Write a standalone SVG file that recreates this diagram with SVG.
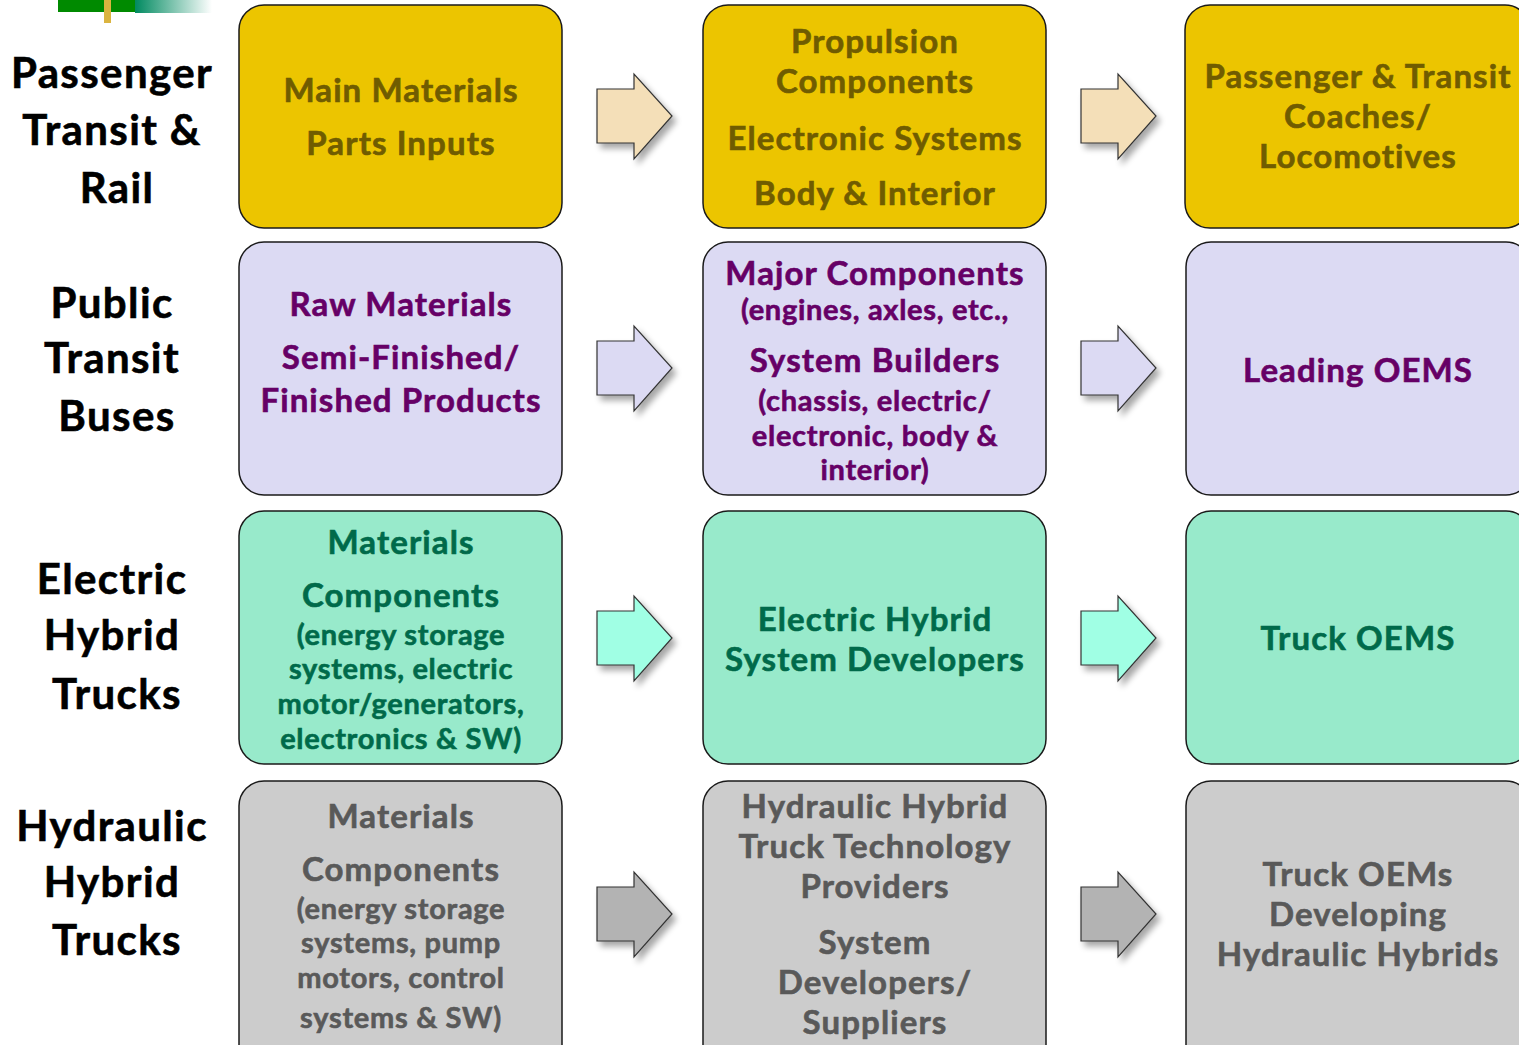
<svg xmlns="http://www.w3.org/2000/svg" width="1519" height="1045" viewBox="0 0 1519 1045">
<defs>
<linearGradient id="lg" x1="0" y1="0" x2="1" y2="0">
<stop offset="0" stop-color="#008a60"/>
<stop offset="1" stop-color="#ffffff"/>
</linearGradient>
<filter id="sh" x="-30%" y="-30%" width="170%" height="170%">
<feGaussianBlur in="SourceAlpha" stdDeviation="3"/>
<feOffset dx="4" dy="5" result="b"/>
<feComponentTransfer><feFuncA type="linear" slope="0.35"/></feComponentTransfer>
<feMerge><feMergeNode/><feMergeNode in="SourceGraphic"/></feMerge>
</filter>
<path id="arr" d="M0,-27 L37,-27 L37,-42 L75,0 L37,43 L37,27 L0,27 Z"/>
</defs>
<style>
text{font-family:Lato,"Open Sans","Liberation Sans",sans-serif;font-weight:bold;text-anchor:middle;stroke-width:0.6px}
.lbl{font-size:42px;letter-spacing:1.4px;fill:#000;stroke:#000}
.box{stroke:#1a1a1a;stroke-width:1.5}
.a{stroke:#333;stroke-width:1.2;filter:url(#sh)}
.y{fill:#ecc500}.yt{fill:#705c00;stroke:#705c00}
.p{fill:#dcdaf3}.pt{fill:#660066;stroke:#660066}
.g{fill:#98eacb}.gt{fill:#006a4a;stroke:#006a4a}
.k{fill:#cccccc}.kt{fill:#595959;stroke:#595959}
.t32{font-size:33px;letter-spacing:1.1px}.t28{font-size:29px;letter-spacing:0.7px}
</style>
<g id="logo">
<rect x="58" y="0" width="77" height="12" fill="#008a00"/>
<rect x="135" y="0" width="77" height="13" fill="url(#lg)"/>
<rect x="104" y="0" width="7" height="23" fill="#dbb440"/>
</g>
<g id="labels">
<text class="lbl" x="112" y="88">Passenger</text>
<text class="lbl" x="112" y="145">Transit &amp;</text>
<text class="lbl" x="117" y="203">Rail</text>
<text class="lbl" x="112" y="318">Public</text>
<text class="lbl" x="112" y="373">Transit</text>
<text class="lbl" x="117" y="431">Buses</text>
<text class="lbl" x="112" y="594">Electric</text>
<text class="lbl" x="112" y="650">Hybrid</text>
<text class="lbl" x="117" y="709">Trucks</text>
<text class="lbl" x="112" y="841">Hydraulic</text>
<text class="lbl" x="112" y="897">Hybrid</text>
<text class="lbl" x="117" y="955">Trucks</text>
</g>
<g id="connectors">
<use href="#arr" x="597" y="116" class="a" fill="#f4dfb8"/>
<use href="#arr" x="1081" y="116" class="a" fill="#f4dfb8"/>
<use href="#arr" x="597" y="368" class="a" fill="#dcdaf3"/>
<use href="#arr" x="1081" y="368" class="a" fill="#dcdaf3"/>
<use href="#arr" x="597" y="638" class="a" fill="#a0ffe4"/>
<use href="#arr" x="1081" y="638" class="a" fill="#a0ffe4"/>
<use href="#arr" x="597" y="914" class="a" fill="#b3b3b3"/>
<use href="#arr" x="1081" y="914" class="a" fill="#b3b3b3"/>
</g>
<g id="n11"><rect class="box y" x="239" y="5" width="323" height="223" rx="25"/>
<text class="yt t32" x="401" y="102">Main Materials</text>
<text class="yt t32" x="401" y="155">Parts Inputs</text></g>
<g id="n12"><rect class="box y" x="703" y="5" width="343" height="223" rx="25"/>
<text class="yt t32" x="875" y="53">Propulsion</text>
<text class="yt t32" x="875" y="93">Components</text>
<text class="yt t32" x="875" y="150">Electronic Systems</text>
<text class="yt t32" x="875" y="205">Body &amp; Interior</text></g>
<g id="n13"><rect class="box y" x="1185" y="5" width="345" height="223" rx="25"/>
<text class="yt t32" x="1358" y="88">Passenger &amp; Transit</text>
<text class="yt t32" x="1358" y="128">Coaches/</text>
<text class="yt t32" x="1358" y="168">Locomotives</text></g>
<g id="n21"><rect class="box p" x="239" y="242" width="323" height="253" rx="25"/>
<text class="pt t32" x="401" y="316">Raw Materials</text>
<text class="pt t32" x="401" y="369">Semi-Finished/</text>
<text class="pt t32" x="401" y="412">Finished Products</text></g>
<g id="n22"><rect class="box p" x="703" y="242" width="343" height="253" rx="25"/>
<text class="pt t32" x="875" y="285">Major Components</text>
<text class="pt t28" x="875" y="320">(engines, axles, etc.,</text>
<text class="pt t32" x="875" y="372">System Builders</text>
<text class="pt t28" x="875" y="411">(chassis, electric/</text>
<text class="pt t28" x="875" y="446">electronic, body &amp;</text>
<text class="pt t28" x="875" y="480">interior)</text></g>
<g id="n23"><rect class="box p" x="1186" y="242" width="345" height="253" rx="25"/>
<text class="pt t32" x="1358" y="382">Leading OEMS</text></g>
<g id="n31"><rect class="box g" x="239" y="511" width="323" height="253" rx="25"/>
<text class="gt t32" x="401" y="554">Materials</text>
<text class="gt t32" x="401" y="607">Components</text>
<text class="gt t28" x="401" y="645">(energy storage</text>
<text class="gt t28" x="401" y="679">systems, electric</text>
<text class="gt t28" x="401" y="714">motor/generators,</text>
<text class="gt t28" x="401" y="749">electronics &amp; SW)</text></g>
<g id="n32"><rect class="box g" x="703" y="511" width="343" height="253" rx="25"/>
<text class="gt t32" x="875" y="631">Electric Hybrid</text>
<text class="gt t32" x="875" y="671">System Developers</text></g>
<g id="n33"><rect class="box g" x="1186" y="511" width="345" height="253" rx="25"/>
<text class="gt t32" x="1358" y="650">Truck OEMS</text></g>
<g id="n41"><rect class="box k" x="239" y="781" width="323" height="290" rx="25"/>
<text class="kt t32" x="401" y="828">Materials</text>
<text class="kt t32" x="401" y="881">Components</text>
<text class="kt t28" x="401" y="919">(energy storage</text>
<text class="kt t28" x="401" y="953">systems, pump</text>
<text class="kt t28" x="401" y="988">motors, control</text>
<text class="kt t28" x="401" y="1028">systems &amp; SW)</text></g>
<g id="n42"><rect class="box k" x="703" y="781" width="343" height="290" rx="25"/>
<text class="kt t32" x="875" y="818">Hydraulic Hybrid</text>
<text class="kt t32" x="875" y="858">Truck Technology</text>
<text class="kt t32" x="875" y="898">Providers</text>
<text class="kt t32" x="875" y="954">System</text>
<text class="kt t32" x="875" y="994">Developers/</text>
<text class="kt t32" x="875" y="1034">Suppliers</text></g>
<g id="n43"><rect class="box k" x="1186" y="781" width="345" height="290" rx="25"/>
<text class="kt t32" x="1358" y="886">Truck OEMs</text>
<text class="kt t32" x="1358" y="926">Developing</text>
<text class="kt t32" x="1358" y="966">Hydraulic Hybrids</text></g>
</svg>
